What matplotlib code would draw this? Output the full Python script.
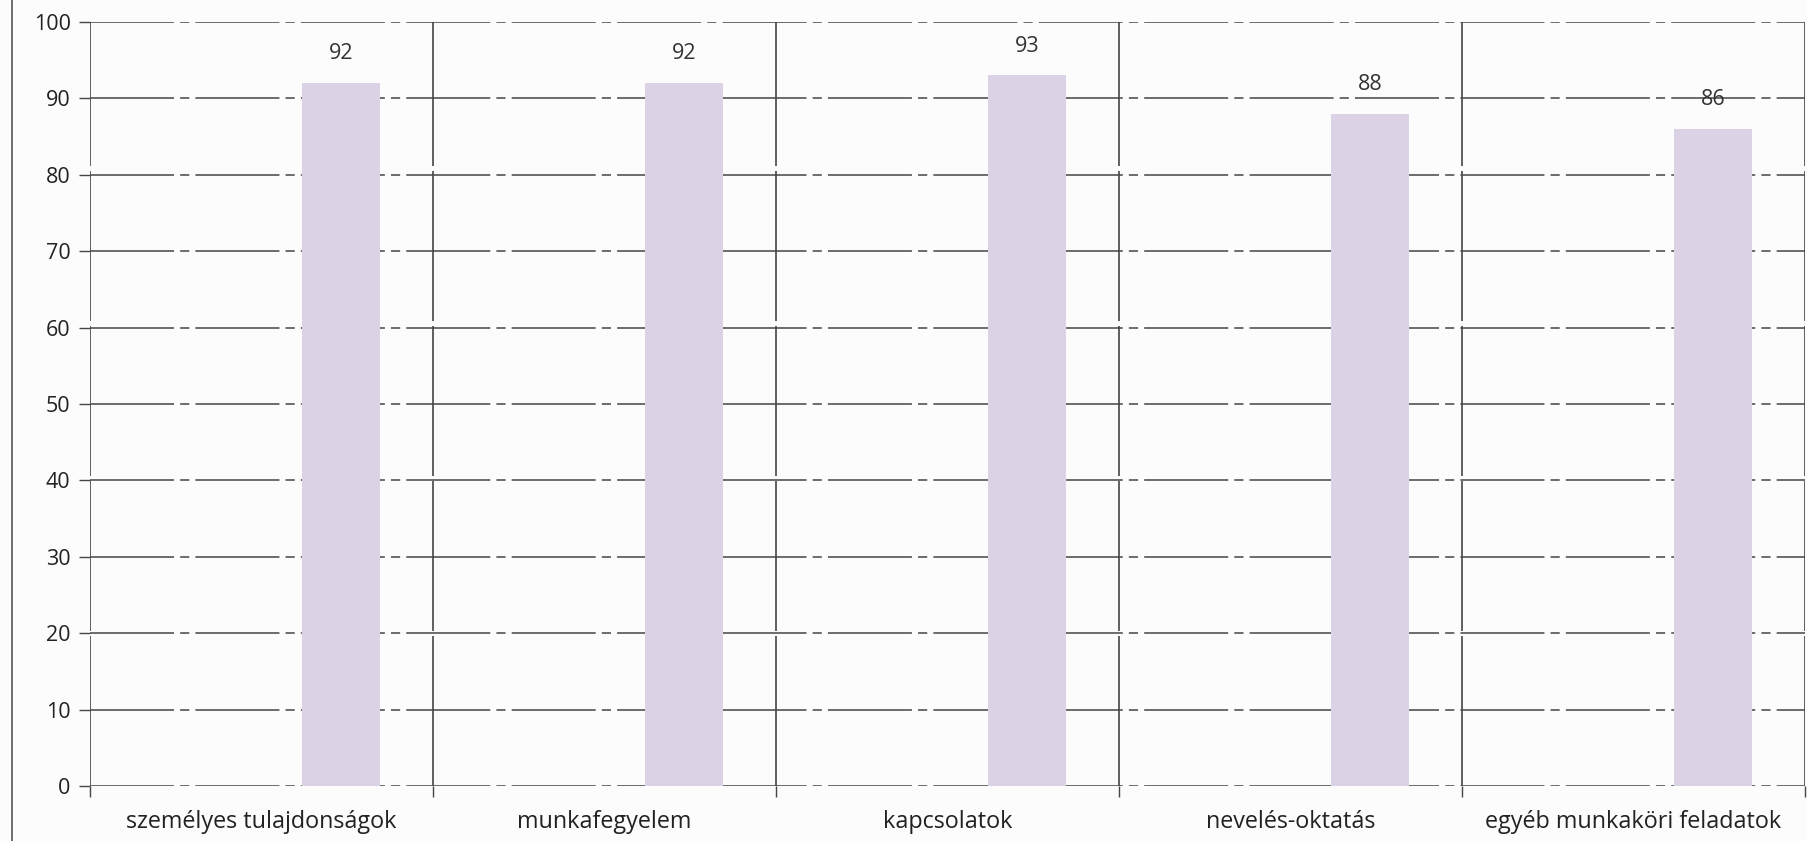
import matplotlib
matplotlib.use("Agg")
import matplotlib.pyplot as plt
from matplotlib.lines import Line2D
import numpy as np

categories = ["személyes tulajdonságok", "munkafegyelem", "kapcsolatok",
              "nevelés-oktatás", "egyéb munkaköri feladatok"]
values = [92, 92, 93, 88, 86]
yticks = [0, 10, 20, 30, 40, 50, 60, 70, 80, 90, 100]

plt.rcParams['font.family'] = ['Open Sans', 'DejaVu Sans']

W, H = 1808, 841
fig = plt.figure(figsize=(W / 100, H / 100), dpi=100)
fig.patch.set_facecolor('#fcfcfc')
ax = fig.add_axes([90 / W, 1 - 786 / H, (1805 - 90) / W, (786 - 22) / H])
ax.set_facecolor('#fcfcfc')

n = len(categories)
x = np.arange(n)
bar_w = 0.229
offset = 0.232
bar_color = '#dbd2e6'
grid_color = '#454545'

ax.set_xlim(-0.5, n - 0.5)
ax.set_ylim(0, 100)

# gridlines
for yv in yticks:
    ax.axhline(yv, color=grid_color, lw=1.1, ls=(0, (55, 4, 6, 4)), zorder=1)
# category separators
for b in np.arange(-0.5, n, 1.0):
    ax.axvline(b, color=grid_color, lw=1.2, ls=(0, (90, 3)), zorder=1)

bars = ax.bar(x + offset, values, width=bar_w, color=bar_color, zorder=2)
for xi, v in zip(x + offset, values):
    ax.annotate(str(v), (xi, v), xytext=(0, 21), textcoords='offset points',
                ha='center', va='center', fontsize=15.5, color='#333333')

for s in ax.spines.values():
    s.set_visible(False)

ax.set_yticks(yticks)
ax.set_yticklabels([str(t) for t in yticks], fontsize=15.5, color='#222222')
ax.tick_params(axis='y', length=8, width=1, color=grid_color, pad=6)

ax.set_xticks(x)
ax.set_xticklabels(categories, fontsize=16.8, color='#222222')
ax.tick_params(axis='x', which='major', length=0, pad=17)
ax.set_xticks(np.arange(-0.5, n, 1.0), minor=True)
ax.tick_params(axis='x', which='minor', length=8, width=1, color=grid_color)

# scan border on the left
fig.add_artist(Line2D([12 / W, 12 / W], [0, 1], transform=fig.transFigure,
                      color='#555555', lw=1.2))

fig.savefig('out.png', dpi=100, facecolor=fig.get_facecolor())
